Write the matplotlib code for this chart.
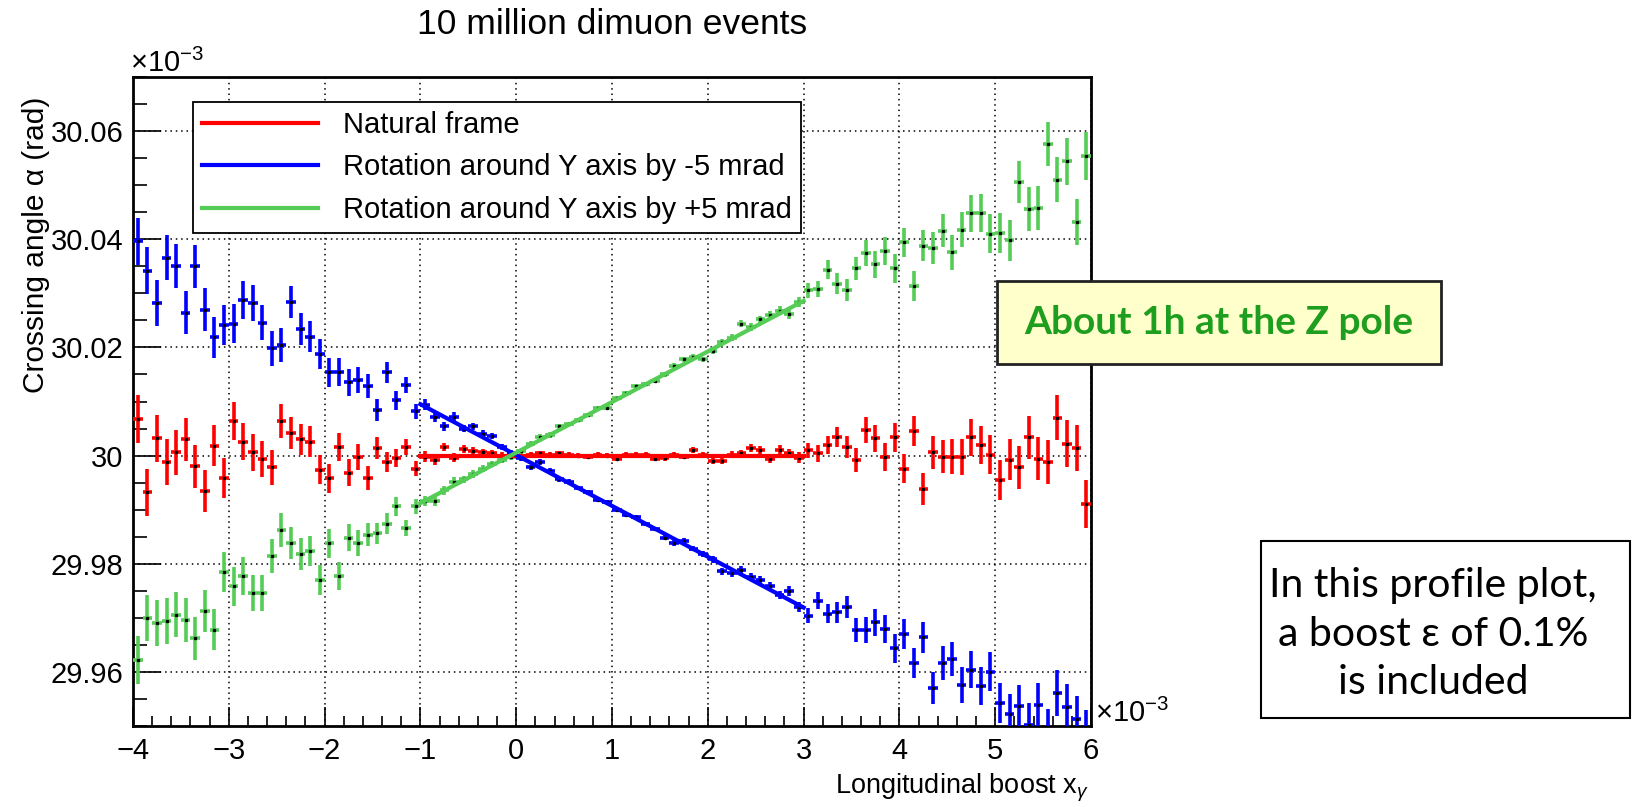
import numpy as np
import matplotlib
matplotlib.use('Agg')
import matplotlib.pyplot as plt
from matplotlib.lines import Line2D
from matplotlib.patches import Rectangle
from matplotlib.ticker import MultipleLocator, FuncFormatter

plt.rcParams['font.family'] = ['Liberation Sans', 'DejaVu Sans']
plt.rcParams['mathtext.fontset'] = 'custom'
plt.rcParams['mathtext.rm'] = 'Liberation Sans'
plt.rcParams['mathtext.it'] = 'Liberation Sans:italic'

# profile binning: 100 bins from -4 to 6 (units of 1e-3)
x_lo, x_hi, n_bins = -4.0, 6.0, 100
half_bin = 0.05
centers = np.linspace(x_lo + half_bin, x_hi - half_bin, n_bins)

# crossing angle per bin (units of 1e-3 rad)
natural = [
    30.0068, 29.9932, 30.0032, 29.9988, 30.0006, 30.0030, 29.9980, 29.9934, 30.0018, 29.9958,
    30.0064, 30.0026, 30.0006, 29.9994, 29.9978, 30.0064, 30.0042, 30.0030, 30.0026, 29.9974,
    29.9958, 30.0016, 29.9968, 29.9998, 29.9958, 30.0014, 29.9988, 29.9996, 30.0016, 29.9976,
    29.9998, 29.9992, 30.0016, 29.9996, 30.0012, 30.0008, 30.0006, 30.0004, 30.0000, 30.0000,
    30.0000, 30.0002, 30.0004, 30.0002, 30.0004, 30.0002, 30.0000, 29.9998, 30.0002, 30.0000,
    29.9994, 30.0002, 30.0002, 30.0002, 29.9994, 29.9995, 30.0002, 29.9998, 30.0010, 30.0002,
    29.9990, 29.9990, 30.0002, 30.0004, 30.0014, 30.0010, 29.9994, 30.0011, 30.0004, 29.9996,
    30.0010, 30.0004, 30.0020, 30.0034, 30.0016, 29.9992, 30.0048, 30.0032, 29.9998, 30.0034,
    29.9976, 30.0046, 29.9938, 30.0006, 29.9998, 29.9998, 29.9998, 30.0034, 30.0020, 30.0002,
    29.9954, 29.9992, 29.9978, 30.0034, 29.9994, 29.9988, 30.0070, 30.0022, 30.0014, 29.9910,
]
rot_minus = [
    30.0396, 30.0342, 30.0282, 30.0366, 30.0350, 30.0264, 30.0350, 30.0270, 30.0219, 30.0242,
    30.0244, 30.0288, 30.0282, 30.0246, 30.0198, 30.0204, 30.0284, 30.0234, 30.0220, 30.0188,
    30.0154, 30.0154, 30.0136, 30.0140, 30.0128, 30.0084, 30.0154, 30.0102, 30.0130, 30.0082,
    30.0094, 30.0072, 30.0054, 30.0072, 30.0050, 30.0054, 30.0040, 30.0036, 30.0016, 30.0004,
    29.9995, 29.9978, 29.9988, 29.9972, 29.9956, 29.9952, 29.9940, 29.9932, 29.9918, 29.9914,
    29.9900, 29.9890, 29.9886, 29.9874, 29.9864, 29.9848, 29.9838, 29.9842, 29.9828, 29.9818,
    29.9808, 29.9786, 29.9782, 29.9788, 29.9776, 29.9770, 29.9758, 29.9742, 29.9750, 29.9720,
    29.9704, 29.9732, 29.9708, 29.9710, 29.9720, 29.9678, 29.9678, 29.9692, 29.9680, 29.9644,
    29.9670, 29.9616, 29.9664, 29.9570, 29.9616, 29.9624, 29.9576, 29.9604, 29.9574, 29.9600,
    29.9543, 29.9522, 29.9537, 29.9502, 29.9539, 29.9490, 29.9561, 29.9535, 29.9513, 29.9485,
]
rot_plus = [
    29.9622, 29.9700, 29.9690, 29.9694, 29.9706, 29.9696, 29.9662, 29.9712, 29.9678, 29.9784,
    29.9758, 29.9778, 29.9746, 29.9746, 29.9814, 29.9862, 29.9838, 29.9818, 29.9824, 29.9770,
    29.9838, 29.9778, 29.9848, 29.9838, 29.9854, 29.9856, 29.9874, 29.9906, 29.9866, 29.9906,
    29.9916, 29.9916, 29.9936, 29.9952, 29.9956, 29.9966, 29.9976, 29.9984, 29.9992, 29.9998,
    30.0008, 30.0022, 30.0034, 30.0038, 30.0054, 30.0058, 30.0066, 30.0075, 30.0088, 30.0088,
    30.0107, 30.0116, 30.0128, 30.0132, 30.0138, 30.0150, 30.0166, 30.0178, 30.0182, 30.0178,
    30.0194, 30.0210, 30.0218, 30.0244, 30.0238, 30.0252, 30.0260, 30.0268, 30.0262, 30.0284,
    30.0306, 30.0308, 30.0344, 30.0318, 30.0306, 30.0346, 30.0374, 30.0354, 30.0378, 30.0346,
    30.0394, 30.0314, 30.0388, 30.0384, 30.0416, 30.0376, 30.0418, 30.0448, 30.0448, 30.0410,
    30.0412, 30.0398, 30.0506, 30.0456, 30.0458, 30.0576, 30.0510, 30.0544, 30.0432, 30.0554,
]
# error on the mean per bin (same for the three samples)
bin_err = [
    0.0044, 0.0043, 0.0043, 0.0042, 0.0041, 0.0040, 0.0040, 0.0039, 0.0038, 0.0037,
    0.0036, 0.0035, 0.0034, 0.0033, 0.0032, 0.0031, 0.0030, 0.0029, 0.0028, 0.0027,
    0.0027, 0.0026, 0.0025, 0.0024, 0.0022, 0.0020, 0.0019, 0.0017, 0.0015, 0.0014,
    0.0010, 0.0009, 0.0008, 0.0008, 0.0007, 0.0007, 0.0007, 0.0006, 0.0006, 0.0006,
    0.0005, 0.0005, 0.0005, 0.0005, 0.0005, 0.0004, 0.0004, 0.0004, 0.0004, 0.0004,
    0.0004, 0.0004, 0.0004, 0.0004, 0.0004, 0.0005, 0.0005, 0.0005, 0.0005, 0.0005,
    0.0006, 0.0006, 0.0006, 0.0007, 0.0007, 0.0007, 0.0008, 0.0008, 0.0009, 0.0010,
    0.0014, 0.0015, 0.0017, 0.0019, 0.0020, 0.0022, 0.0024, 0.0025, 0.0026, 0.0027,
    0.0027, 0.0028, 0.0029, 0.0030, 0.0031, 0.0032, 0.0033, 0.0034, 0.0035, 0.0036,
    0.0037, 0.0038, 0.0039, 0.0040, 0.0040, 0.0041, 0.0042, 0.0043, 0.0043, 0.0044,
]

# linear fits in the range -1 .. 3
fit_x = [-1.0, 3.0]
fit_natural = [30.0000, 30.0000]
fit_minus = [30.0095, 29.9719]
fit_plus = [29.9912, 30.0286]

labels = ['Natural frame', 'Rotation around Y axis by -5 mrad', 'Rotation around Y axis by +5 mrad']
colors = ['#ff0000', '#0000ff', '#55cc55']

W, H = 1632, 807
fig = plt.figure(figsize=(W / 100, H / 100), dpi=100)
ax = fig.add_axes([133 / W, 1 - 726 / H, 958 / W, 649 / H])

for vals, fit, col in zip([natural, rot_minus, rot_plus], [fit_natural, fit_minus, fit_plus], colors):
    ax.errorbar(centers, vals, yerr=bin_err, xerr=half_bin, fmt='none',
                ecolor=col, elinewidth=2.6, capsize=0, zorder=3)
    ax.plot(centers, vals, ls='none', marker='s', ms=1.4, color='k', zorder=4)
    ax.plot(fit_x, fit, color=col, lw=3, zorder=5)

ax.set_xlim(x_lo, x_hi)
ax.set_ylim(29.95, 30.07)
ax.xaxis.set_major_locator(MultipleLocator(1))
ax.xaxis.set_minor_locator(MultipleLocator(0.2))
ax.yaxis.set_major_locator(MultipleLocator(0.02))
ax.yaxis.set_minor_locator(MultipleLocator(0.005))
ax.yaxis.set_major_formatter(FuncFormatter(lambda v, p: ('%.2f' % v).rstrip('0').rstrip('.')))
ax.tick_params(axis='y', which='major', direction='in', length=20, width=1.2, labelsize=21, pad=7)
ax.tick_params(axis='y', which='minor', direction='in', length=10, width=1.2)
ax.tick_params(axis='x', which='major', direction='in', length=14, width=1.2, labelsize=21, pad=8)
ax.tick_params(axis='x', which='minor', direction='in', length=7, width=1.2)
ax.grid(True, which='major', ls=(0, (1, 2.5)), color='k', lw=1.1)
ax.set_axisbelow(True)
for s in ax.spines.values():
    s.set_linewidth(2)

handles = [Line2D([], [], color=c, lw=3) for c in colors]
leg = ax.legend(handles, labels, loc='upper left', bbox_to_anchor=(0.0626, 0.9615, 0.6347, 0.0),
                mode='expand', fontsize=21, frameon=True, fancybox=False, edgecolor='k',
                framealpha=1, borderpad=0.3, labelspacing=0.5, handlelength=4.0,
                handletextpad=0.85, borderaxespad=0)
leg.get_frame().set_linewidth(1.3)

fig.text(612 / W, 1 - 24 / H, '10 million dimuon events', ha='center', va='center', fontsize=25.5)
fig.text(130 / W, 1 - 72 / H, '×10$^{-3}$', ha='left', va='baseline', fontsize=21)
fig.text(1095 / W, 1 - 722 / H, '×10$^{-3}$', ha='left', va='baseline', fontsize=21)
fig.text(36 / W, 1 - 97 / H, 'Crossing angle α (rad)', rotation=90, ha='center', va='top', fontsize=21.5)
fig.text(1089 / W, 1 - 793 / H, 'Longitudinal boost x$_{\\gamma}$', ha='right', va='baseline', fontsize=19.5)

fig.add_artist(Rectangle((997 / W, 1 - 364 / H), 444 / W, 83 / H, transform=fig.transFigure,
                         facecolor='#ffffcc', edgecolor='#222222', lw=2))
fig.text(1219 / W, 1 - 322 / H, 'About 1h at the Z pole', ha='center', va='center', fontsize=28,
         fontweight='bold', color='#1e9e1e', family=['Lato', 'DejaVu Sans'])
fig.add_artist(Rectangle((1261 / W, 1 - 718 / H), 369 / W, 177 / H, transform=fig.transFigure,
                         facecolor='white', edgecolor='black', lw=1.5))
fig.text(1433 / W, 1 - 634 / H, 'In this profile plot,\na boost ε of 0.1%\nis included', ha='center',
         va='center', fontsize=29.5, linespacing=1.4, family=['Lato', 'DejaVu Sans'])

fig.savefig('out.png', dpi=100)
